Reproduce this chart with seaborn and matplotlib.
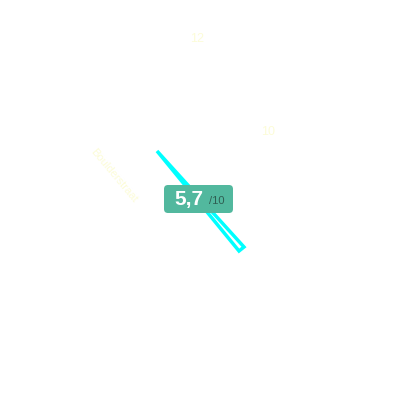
import seaborn as sns
import matplotlib.pyplot as plt
from matplotlib.patches import FancyBboxPatch, Polygon

# datos
score = 5.7
score_max = 10
tick_labels = ["12", "10"]
street = "Boulderstraat"

sns.set_theme(style="white")
plt.rcParams['font.family'] = ['Liberation Sans', 'DejaVu Sans']

fig = plt.figure(figsize=(4, 4), dpi=100)
ax = fig.add_axes([0, 0, 1, 1])
ax.set_xlim(0, 400)
ax.set_ylim(400, 0)
ax.axis("off")

pale = "#fcfcd8"

# etiquetas
ax.text(197, 39, tick_labels[0], color=pale, fontsize=9, ha="center", va="center")
ax.text(268, 132, tick_labels[1], color=pale, fontsize=9, ha="center", va="center")
ax.text(114, 176, street, color=pale, fontsize=8, ha="center", va="center", rotation=-50)

# aguja
aguja = Polygon([(157, 151), (244, 247), (239, 251)],
                closed=True, facecolor="white", edgecolor="#00ffff", linewidth=2.5)
ax.add_patch(aguja)

# cartel con la nota
badge = FancyBboxPatch((164, 185), 69, 28, boxstyle="round,pad=0,rounding_size=4",
                       facecolor="#52b89e", edgecolor="none", zorder=3)
ax.add_patch(badge)
nota = f"{score:.1f}".replace(".", ",")
ax.text(189, 199, nota, color="white", fontsize=15, fontweight="bold",
        ha="center", va="center", zorder=4)
ax.text(217, 201, f"/{score_max}", color="#2f5e52", fontsize=8,
        ha="center", va="center", zorder=4)

fig.savefig("out.png", dpi=100)
